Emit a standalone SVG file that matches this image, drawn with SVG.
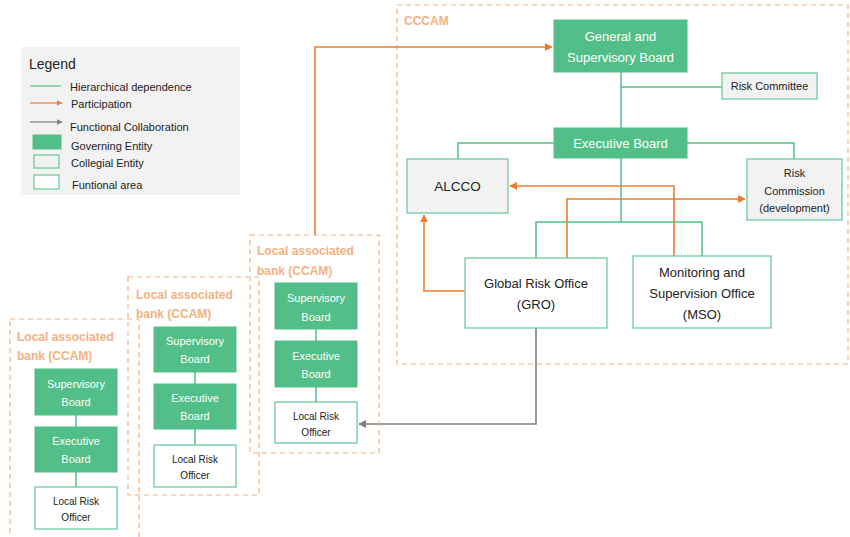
<svg xmlns="http://www.w3.org/2000/svg" width="850" height="537" viewBox="0 0 850 537">
<style>
text{font-family:"Liberation Sans",Arial,sans-serif;}
.gov{fill:#52bf88;stroke:#52bf88;}
.col{fill:#f2f2f2;stroke:#6fcb9d;stroke-width:1.3;}
.fun{fill:#ffffff;stroke:#6fcb9d;stroke-width:1.3;}
.wt{fill:#ffffff;text-anchor:middle;}
.bt{fill:#222222;text-anchor:middle;}
.dash{fill:none;stroke:#f4b183;stroke-width:1.2;stroke-dasharray:5,4;}
.ot{fill:#f4b183;font-weight:bold;font-size:12px;}
.h{fill:none;stroke:#52bf88;stroke-width:1.5;}
.p{fill:none;stroke:#ed7d31;stroke-width:1.6;marker-end:url(#ao);}
.f{fill:none;stroke:#7f7f7f;stroke-width:1.6;marker-end:url(#ag);}
.lg{font-size:11px;fill:#222;}
</style>
<defs>
<marker id="ao" viewBox="0 0 10 10" refX="9" refY="5" markerWidth="5" markerHeight="5" orient="auto"><path d="M0,0 L10,5 L0,10 z" fill="#ed7d31"/></marker>
<marker id="ag" viewBox="0 0 10 10" refX="9" refY="5" markerWidth="5" markerHeight="5" orient="auto"><path d="M0,0 L10,5 L0,10 z" fill="#7f7f7f"/></marker>
</defs>
<rect width="850" height="537" fill="#ffffff"/>

<g id="legend">
<rect x="21" y="47" width="219" height="148" fill="#f2f2f2"/>
<text x="29" y="69" font-size="14" fill="#222">Legend</text>
<line x1="30" y1="86" x2="61" y2="86" stroke="#52bf88" stroke-width="1.2"/>
<text x="70" y="91" class="lg">Hierarchical dependence</text>
<line x1="30" y1="103" x2="62" y2="103" class="p" style="stroke-width:1.2"/>
<text x="71" y="108" class="lg">Participation</text>
<line x1="30" y1="122" x2="62" y2="122" class="f" style="stroke-width:1.2"/>
<text x="70" y="131" class="lg">Functional Collaboration</text>
<rect x="33" y="135" width="28" height="14" class="gov"/>
<text x="71" y="150" class="lg">Governing Entity</text>
<rect x="34" y="155" width="25" height="13" class="col"/>
<text x="71" y="167" class="lg">Collegial Entity</text>
<rect x="34" y="175" width="25" height="14" class="fun"/>
<text x="72" y="189" class="lg">Funtional area</text>
</g>

<g id="cccam">
<rect x="397" y="5" width="451" height="359" class="dash"/>
<text x="404" y="25" class="ot">CCCAM</text>
</g>

<g id="connectors">
<polyline class="h" points="621,72 621,128"/>
<polyline class="h" points="621,87 722,87"/>
<polyline class="h" points="458,159 458,143 554,143"/>
<polyline class="h" points="687,143 794,143 794,159"/>
<polyline class="h" points="621,158 621,222"/>
<polyline class="h" points="536,258 536,222 702,222 702,256"/>
<polyline class="h" points="316,329 316,341"/>
<polyline class="h" points="316,387 316,402"/>
<polyline class="h" points="195,372 195,384"/>
<polyline class="h" points="195,429 195,445"/>
<polyline class="h" points="76,415 76,427"/>
<polyline class="h" points="76,472 76,487"/>
<polyline class="p" points="465,291 424,291 424,215"/>
<polyline class="p" points="567,258 567,199 745,199"/>
<polyline class="p" points="674,256 674,186 510,186"/>
<polyline class="p" points="315,235 315,47 552,47"/>
<polyline class="f" points="536,328 536,424 359,424"/>
</g>

<g id="gsb">
<rect x="554" y="20" width="133" height="52" class="gov"/>
<text x="620.5" y="41" font-size="13" class="wt">General and</text>
<text x="620.5" y="62" font-size="13" class="wt">Supervisory Board</text>
</g>
<g id="risk-committee">
<rect x="722" y="73" width="95" height="26" class="col"/>
<text x="769.5" y="90" font-size="11" class="bt">Risk Committee</text>
</g>
<g id="exec-board">
<rect x="554" y="128" width="133" height="30" class="gov"/>
<text x="620.5" y="148" font-size="13" class="wt">Executive Board</text>
</g>
<g id="alcco">
<rect x="407" y="159" width="101" height="54" class="col"/>
<text x="457.5" y="191" font-size="13.5" class="bt">ALCCO</text>
</g>
<g id="risk-commission">
<rect x="747" y="159" width="95" height="61" class="col"/>
<text x="794.5" y="177" font-size="11" class="bt">Risk</text>
<text x="794.5" y="195" font-size="11" class="bt">Commission</text>
<text x="794.5" y="212" font-size="11" class="bt">(development)</text>
</g>
<g id="gro">
<rect x="465" y="258" width="142" height="70" class="fun"/>
<text x="536" y="288" font-size="13" class="bt">Global Risk Office</text>
<text x="536" y="309" font-size="13" class="bt">(GRO)</text>
</g>
<g id="mso">
<rect x="633" y="256" width="138" height="72" class="fun"/>
<text x="702" y="277" font-size="13" class="bt">Monitoring and</text>
<text x="702" y="298" font-size="13" class="bt">Supervision Office</text>
<text x="702" y="319" font-size="13" class="bt">(MSO)</text>
</g>

<g id="local-bank-3">
<rect x="250" y="235" width="129" height="218" class="dash"/>
<text x="257" y="255" class="ot">Local associated</text>
<text x="257" y="275" class="ot">bank (CCAM)</text>
<rect x="275" y="283" width="82" height="46" class="gov"/>
<text x="316" y="302" font-size="11" class="wt">Supervisory</text>
<text x="316" y="321" font-size="11" class="wt">Board</text>
<rect x="275" y="341" width="82" height="46" class="gov"/>
<text x="316" y="360" font-size="11" class="wt">Executive</text>
<text x="316" y="378" font-size="11" class="wt">Board</text>
<rect x="275" y="402" width="82" height="41" class="fun"/>
<text x="316" y="420" font-size="10" class="bt">Local Risk</text>
<text x="316" y="436" font-size="10" class="bt">Officer</text>
</g>

<g id="local-bank-2">
<rect x="128" y="277" width="131" height="218" class="dash"/>
<text x="136" y="299" class="ot">Local associated</text>
<text x="136" y="318" class="ot">bank (CCAM)</text>
<rect x="154" y="327" width="82" height="45" class="gov"/>
<text x="195" y="345" font-size="11" class="wt">Supervisory</text>
<text x="195" y="363" font-size="11" class="wt">Board</text>
<rect x="154" y="384" width="82" height="45" class="gov"/>
<text x="195" y="402" font-size="11" class="wt">Executive</text>
<text x="195" y="420" font-size="11" class="wt">Board</text>
<rect x="154" y="445" width="82" height="42" class="fun"/>
<text x="195" y="463" font-size="10" class="bt">Local Risk</text>
<text x="195" y="479" font-size="10" class="bt">Officer</text>
</g>

<g id="local-bank-1">
<rect x="10" y="319" width="129" height="230" class="dash"/>
<text x="17" y="341" class="ot">Local associated</text>
<text x="17" y="360" class="ot">bank (CCAM)</text>
<rect x="35" y="369" width="82" height="46" class="gov"/>
<text x="76" y="388" font-size="11" class="wt">Supervisory</text>
<text x="76" y="406" font-size="11" class="wt">Board</text>
<rect x="35" y="427" width="82" height="45" class="gov"/>
<text x="76" y="445" font-size="11" class="wt">Executive</text>
<text x="76" y="463" font-size="11" class="wt">Board</text>
<rect x="35" y="487" width="82" height="42" class="fun"/>
<text x="76" y="505" font-size="10" class="bt">Local Risk</text>
<text x="76" y="521" font-size="10" class="bt">Officer</text>
</g>
</svg>
